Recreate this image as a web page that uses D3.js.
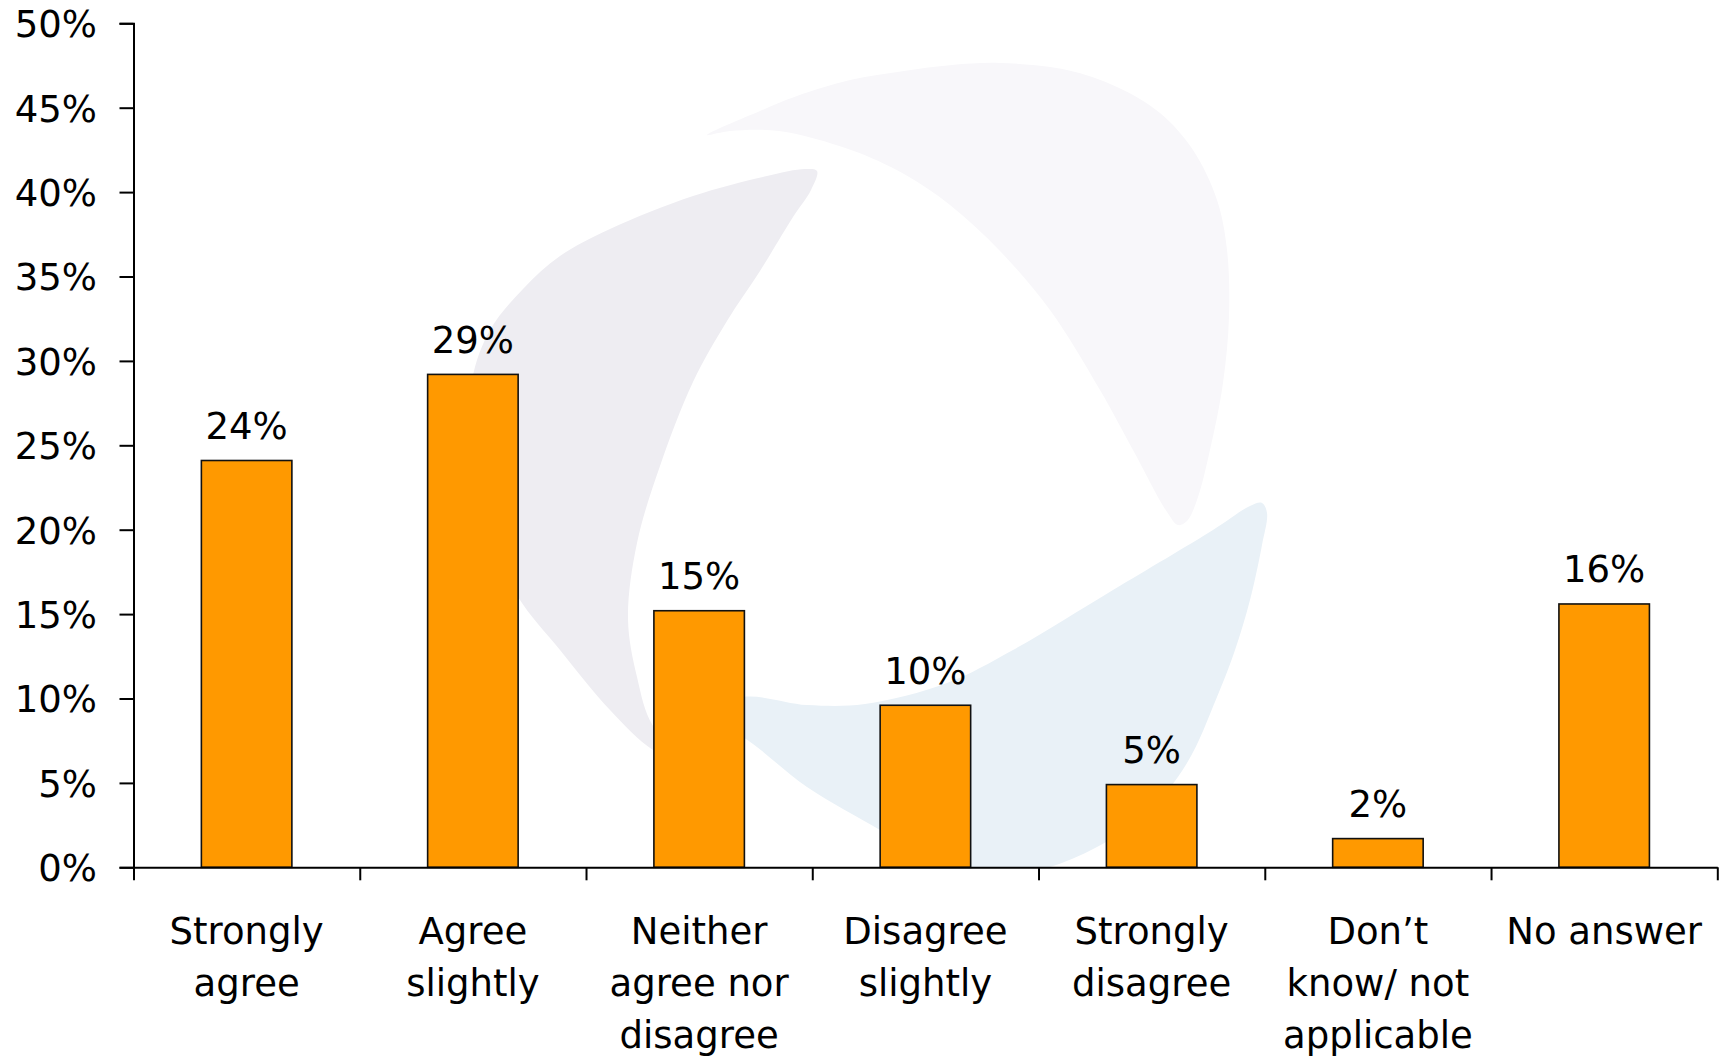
<!DOCTYPE html>
<html><head><meta charset="utf-8">
<script src="https://cdn.jsdelivr.net/npm/d3@7"></script>
<style>html,body{margin:0;padding:0;background:#fff;} svg{display:block;}</style>
</head><body><svg id="chart" width="1723" height="1057"></svg>
<script>
// ---- data ----
const categories = ["Strongly agree","Agree slightly","Neither agree nor disagree","Disagree slightly","Strongly disagree","Don’t know/ not applicable","No answer"];
const categoryLines = [["Strongly","agree"],["Agree","slightly"],["Neither","agree nor","disagree"],["Disagree","slightly"],["Strongly","disagree"],["Don’t","know/ not","applicable"],["No answer"]];
const values = [24.1, 29.2, 15.2, 9.6, 4.9, 1.7, 15.6];
const valueLabels = ["24%","29%","15%","10%","5%","2%","16%"];
const yTicks = [0, 5, 10, 15, 20, 25, 30, 35, 40, 45, 50];
const yTickLabels = ["0%","5%","10%","15%","20%","25%","30%","35%","40%","45%","50%"];

// ---- decorative watermark outlines (background logo) ----
const wmGrey = [[817,171],[811,190],[793,217],[760,271],[727,321],[693,382],[660,466],[637,543],[628,619],[637,677],[653,726],[695,768],[653,750],[610,710],[560,650],[518,597],[486,530],[469,450],[472,380],[490,330],[523,289],[560,256],[610,229],[693,196],[767,176],[805,169]];
const wmTop = [[707,135],[760,111],[797,96],[850,80],[904,71],[952,65],[1000,63],[1067,70],[1117,87],[1160,113],[1193,150],[1217,200],[1227,250],[1229,317],[1223,383],[1210,450],[1197,500],[1187,521],[1178,525],[1167,512],[1133,450],[1100,390],[1050,310],[1000,251],[950,205],[904,174],[851,150],[779,131],[730,131]];
const wmBlue = [[700,716],[743,697],[807,705],[865,704],[947,683],[1013,650],[1113,590],[1213,530],[1250,506],[1262,503],[1267,513],[1262,545],[1250,600],[1235,650],[1217,697],[1187,763],[1147,813],[1097,847],[1047,868],[990,880],[930,860],[880,830],[807,787],[743,737]];

// ---- layout ----
const x0 = 133.5, x1 = 1717.3, yBase = 867.3, yTop = 23.3;
const FONT = "'DejaVu Sans', Verdana, sans-serif";

const svg = d3.select("#chart");

const x = d3.scaleBand().domain(categories).range([x0, x1]).paddingInner(0.6).paddingOuter(0.3);
const y = d3.scaleLinear().domain([0, 50]).range([yBase, yTop]);

// watermark
svg.append("clipPath").attr("id","plotclip").append("rect")
  .attr("x", x0).attr("y", 0).attr("width", x1 - x0).attr("height", yBase);
const wm = svg.append("g").attr("clip-path","url(#plotclip)");
const shape = d3.line().curve(d3.curveCatmullRomClosed.alpha(0.5));
wm.append("path").attr("d", shape(wmTop)).attr("fill","#f8f7fa");
wm.append("path").attr("d", shape(wmGrey)).attr("fill","#eeedf2");
wm.append("path").attr("d", shape(wmBlue)).attr("fill","#e9f1f7");

// bars
svg.append("g").selectAll("rect").data(values).join("rect")
  .attr("x", (d,i) => x(categories[i]))
  .attr("y", d => y(d))
  .attr("width", x.bandwidth())
  .attr("height", d => y(0) - y(d))
  .attr("fill", "#ff9900")
  .attr("stroke", "#111")
  .attr("stroke-width", 1.6);

// value labels
svg.append("g").selectAll("text").data(values).join("text")
  .attr("x", (d,i) => x(categories[i]) + x.bandwidth()/2)
  .attr("y", d => y(d) - 21.5)
  .attr("text-anchor","middle")
  .attr("font-family", FONT).attr("font-size", 37).attr("fill","#000")
  .text((d,i) => valueLabels[i]);

// y axis
const yAxis = d3.axisLeft(y).tickValues(yTicks)
  .tickFormat((d,i) => yTickLabels[i]).tickSize(14).tickSizeOuter(14).tickPadding(22.6);
const gy = svg.append("g").attr("transform", `translate(${x0},0)`).call(yAxis);
gy.selectAll("path,line").attr("stroke","#000").attr("stroke-width",2);
gy.selectAll("text").attr("font-family", FONT).attr("font-size", 37).attr("fill","#000").attr("dy","0.36em");

// x axis (category boundaries as ticks)
const bScale = d3.scaleLinear().domain([0, categories.length]).range([x0, x1]);
const xAxis = d3.axisBottom(bScale).tickValues(d3.range(categories.length + 1))
  .tickFormat("").tickSize(13).tickSizeOuter(0);
const gx = svg.append("g").attr("transform", `translate(0,${yBase})`).call(xAxis);
gx.selectAll("path,line").attr("stroke","#000").attr("stroke-width",2);

// category labels
const lab = svg.append("g").selectAll("text").data(categoryLines).join("text")
  .attr("x", (d,i) => x(categories[i]) + x.bandwidth()/2)
  .attr("y", yBase + 77)
  .attr("text-anchor","middle")
  .attr("font-family", FONT).attr("font-size", 37).attr("fill","#000");
lab.each(function(lines, i) {
  const t = d3.select(this);
  const cx = x(categories[i]) + x.bandwidth()/2;
  lines.forEach((s, k) => {
    t.append("tspan").attr("x", cx).attr("dy", k === 0 ? 0 : 52).text(s);
  });
});
</script>
</body></html>
